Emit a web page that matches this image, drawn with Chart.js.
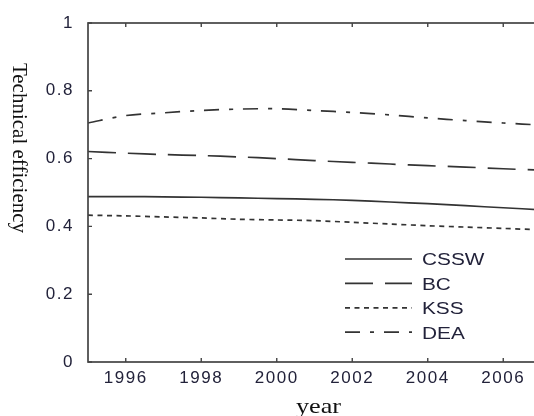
<!DOCTYPE html>
<html>
<head>
<meta charset="utf-8">
<script src="https://cdn.jsdelivr.net/npm/chart.js@4"></script>
<style>
  html, body { margin: 0; padding: 0; background: #fff; overflow: hidden; }
  #wrap { width: 534px; height: 416px; overflow: hidden; }
</style>
</head>
<body>
<div id="wrap"><canvas id="effChart" width="550" height="416"></canvas></div>
<script>
// Data
const years = [1995, 1996, 1997, 1998, 1999, 2000, 2001, 2002, 2003, 2004, 2005, 2006, 2007];
const xTickYears = [1996, 1998, 2000, 2002, 2004, 2006];
const yTickValues = [0, 0.2, 0.4, 0.6, 0.8, 1];

const seriesNames = ['CSSW', 'BC', 'KSS', 'DEA'];
const csswValues = [0.488, 0.488, 0.487, 0.486, 0.484, 0.482, 0.480, 0.477, 0.472, 0.467, 0.461, 0.455, 0.449];
const bcValues   = [0.621, 0.616, 0.612, 0.609, 0.605, 0.600, 0.594, 0.589, 0.584, 0.579, 0.575, 0.570, 0.566];
const kssValues  = [0.433, 0.431, 0.428, 0.425, 0.421, 0.419, 0.417, 0.412, 0.407, 0.402, 0.398, 0.394, 0.390];
const deaValues  = [0.705, 0.727, 0.735, 0.742, 0.746, 0.747, 0.742, 0.736, 0.729, 0.720, 0.712, 0.705, 0.699];

const lineColor = '#333';
const textColor = '#22223a';

const toPoints = vals => vals.map((v, i) => ({ x: years[i], y: v }));

function makeDataset(label, vals, dash) {
    return {
        label: label,
        data: toPoints(vals),
        borderColor: lineColor,
        borderWidth: 1.7,
        borderDash: dash,
        pointRadius: 0,
        tension: 0.3,
        fill: false
    };
}

// frame round the plot with inward tick marks, titles and the legend
const framePlugin = {
    id: 'frame',
    beforeDraw(chart) {
        chart.ctx.letterSpacing = '1.5px';
    },
    afterDatasetsDraw(chart) {
        const { ctx, chartArea: a, scales } = chart;
        ctx.save();
        ctx.letterSpacing = '0px';
        ctx.strokeStyle = '#444';
        ctx.lineWidth = 1.7;
        ctx.setLineDash([]);
        ctx.strokeRect(a.left, a.top, a.right - a.left, a.bottom - a.top);
        ctx.lineWidth = 1.4;
        ctx.beginPath();
        scales.x.ticks.forEach(t => {
            const px = scales.x.getPixelForValue(t.value);
            ctx.moveTo(px, a.bottom); ctx.lineTo(px, a.bottom - 4);
            ctx.moveTo(px, a.top); ctx.lineTo(px, a.top + 4);
        });
        scales.y.ticks.forEach(t => {
            const py = scales.y.getPixelForValue(t.value);
            ctx.moveTo(a.left, py); ctx.lineTo(a.left + 4, py);
            ctx.moveTo(a.right, py); ctx.lineTo(a.right - 4, py);
        });
        ctx.stroke();
        ctx.restore();
    },
    afterDraw(chart) {
        const ctx = chart.ctx;
        ctx.save();
        ctx.letterSpacing = '0px';
        ctx.fillStyle = '#111';

        // y axis title, reading top to bottom
        ctx.save();
        ctx.translate(19, 148);
        ctx.rotate(Math.PI / 2);
        ctx.font = '21px "Liberation Serif", "Times New Roman", serif';
        ctx.textAlign = 'center';
        ctx.textBaseline = 'middle';
        ctx.fillText('Technical efficiency', 0, 0);
        ctx.restore();

        // x axis title
        ctx.save();
        ctx.translate((chart.chartArea.left + chart.chartArea.right) / 2 + 4, 413);
        ctx.scale(1.25, 1);
        ctx.font = '21px "Liberation Serif", "Times New Roman", serif';
        ctx.textAlign = 'center';
        ctx.textBaseline = 'alphabetic';
        ctx.fillText('year', 0, 0);
        ctx.restore();

        // legend inside the plot
        const lx = 345, ly = 259, gap = 24.4, len = 67;
        chart.data.datasets.forEach((ds, i) => {
            const y = ly + i * gap;
            ctx.strokeStyle = lineColor;
            ctx.lineWidth = 1.7;
            ctx.setLineDash(ds.borderDash);
            ctx.beginPath();
            ctx.moveTo(lx, y);
            ctx.lineTo(lx + len, y);
            ctx.stroke();
            ctx.setLineDash([]);
            ctx.save();
            ctx.translate(lx + len + 10, y + 2);
            ctx.scale(1.3, 1);
            ctx.fillStyle = textColor;
            ctx.font = '16px "Liberation Sans", Arial, sans-serif';
            ctx.textAlign = 'left';
            ctx.textBaseline = 'middle';
            ctx.fillText(ds.label, 0, 0);
            ctx.restore();
        });
        ctx.restore();
    }
};

const tickFont = { family: '"Liberation Sans", Arial, sans-serif', size: 17 };

const effChart = new Chart(document.getElementById('effChart'), {
    type: 'line',
    data: {
        datasets: [
            makeDataset(seriesNames[0], csswValues, []),
            makeDataset(seriesNames[1], bcValues, [28, 12]),
            makeDataset(seriesNames[2], kssValues, [5, 4.5]),
            makeDataset(seriesNames[3], deaValues, [15, 10, 4, 10])
        ]
    },
    options: {
        responsive: false,
        animation: false,
        layout: { padding: { top: 23, right: 9, left: 0, bottom: 0 } },
        plugins: {
            legend: { display: false },
            tooltip: { enabled: false }
        },
        scales: {
            x: {
                type: 'linear',
                min: 1995,
                max: 2007,
                afterBuildTicks: s => { s.ticks = xTickYears.map(v => ({ value: v })); },
                afterFit: s => { s.height = 54; },
                grid: { display: false },
                border: { display: false },
                ticks: {
                    color: textColor,
                    padding: -2,
                    maxRotation: 0,
                    font: tickFont,
                    callback: v => String(v)
                }
            },
            y: {
                min: 0,
                max: 1,
                afterBuildTicks: s => { s.ticks = yTickValues.map(v => ({ value: v })); },
                afterFit: s => { s.width = 88; },
                grid: { display: false },
                border: { display: false },
                ticks: {
                    color: textColor,
                    padding: 6,
                    font: tickFont,
                    callback: v => String(v)
                }
            }
        }
    },
    plugins: [framePlugin]
});
</script>
</body>
</html>
